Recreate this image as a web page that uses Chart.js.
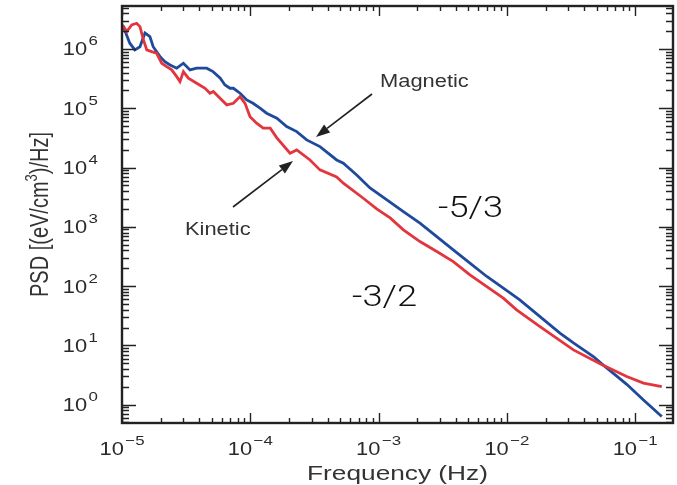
<!DOCTYPE html>
<html>
<head>
<meta charset="utf-8">
<title>PSD - Magnetic vs Kinetic</title>
<script src="https://cdn.jsdelivr.net/npm/chart.js"></script>
<style>
  html, body { margin: 0; padding: 0; background: #fff; }
</style>
</head>
<body>
<canvas id="psd" width="677" height="485"></canvas>
<script>
// magnetic spectrum (blue)
const magFreq = [1.02e-5, 1.15e-5, 1.26e-5, 1.38e-5, 1.51e-5, 1.65e-5, 1.75e-5, 1.98e-5, 2.16e-5, 2.37e-5,
  2.67e-5, 3.01e-5, 3.39e-5, 3.82e-5, 4.57e-5, 5.12e-5, 5.81e-5, 6.35e-5, 6.95e-5, 7.38e-5,
  8.32e-5, 9.38e-5, 1.05e-4, 1.19e-4, 1.34e-4, 1.61e-4, 1.92e-4, 2.30e-4, 2.75e-4, 3.49e-4,
  4.71e-4, 5.31e-4, 6.75e-4, 8.57e-4, 1.16e-3, 1.56e-3, 2.10e-3, 2.84e-3, 3.82e-3, 5.15e-3,
  6.97e-3, 9.38e-3, 1.26e-2, 1.81e-2, 2.59e-2, 3.30e-2, 4.72e-2, 5.61e-2, 8.59e-2, 0.116, 0.161];
const magPsd = [2.44e6, 1.25e6, 9.62e5, 1.09e6, 1.86e6, 1.61e6, 1.09e6, 7.41e5, 6.11e5, 5.37e5,
  4.73e5, 5.74e5, 4.43e5, 4.73e5, 4.73e5, 4.14e5, 3.24e5, 2.47e5, 2.17e5, 2.17e5,
  1.79e5, 1.38e5, 1.21e5, 1.00e5, 8.24e4, 6.78e4, 4.90e4, 4.03e4, 2.92e4, 2.25e4,
  1.34e4, 1.18e4, 7.50e3, 4.53e3, 2.84e3, 1.80e3, 1.15e3, 684, 407, 243,
  145, 92.2, 58.5, 30.6, 16.1, 11.0, 6.47, 4.69, 2.2, 1.2, 0.63];

// kinetic spectrum (red)
const kinFreq = [1.01e-5, 1.09e-5, 1.19e-5, 1.30e-5, 1.38e-5, 1.47e-5, 1.56e-5, 1.70e-5, 1.86e-5, 2.04e-5,
  2.23e-5, 2.44e-5, 2.67e-5, 2.83e-5, 3.01e-5, 3.29e-5, 3.82e-5, 4.44e-5, 4.85e-5, 5.15e-5,
  5.81e-5, 6.55e-5, 7.38e-5, 8.32e-5, 9.10e-5, 9.95e-5, 1.12e-4, 1.26e-4, 1.43e-4, 1.61e-4,
  2.04e-4, 2.30e-4, 2.92e-4, 3.49e-4, 4.71e-4, 5.31e-4, 7.60e-4, 9.66e-4, 1.23e-3, 1.56e-3,
  2.10e-3, 2.84e-3, 3.82e-3, 5.15e-3, 6.97e-3, 9.38e-3, 1.19e-2, 1.81e-2, 3.30e-2, 5.32e-2,
  8.59e-2, 0.116, 0.161];
const kinPsd = [2.54e6, 1.96e6, 2.54e6, 2.71e6, 2.38e6, 1.42e6, 9.62e5, 8.99e5, 8.45e5, 5.74e5,
  5.04e5, 4.43e5, 3.41e5, 2.81e5, 4.14e5, 3.21e5, 2.64e5, 2.17e5, 1.79e5, 1.91e5,
  1.48e5, 1.14e5, 1.21e5, 1.57e5, 1.21e5, 7.21e4, 5.58e4, 4.60e4, 4.60e4, 3.16e4,
  1.74e4, 1.98e4, 1.34e4, 9.12e3, 6.94e3, 5.43e3, 3.03e3, 2.01e3, 1.41e3, 887,
  563, 382, 259, 155, 98.2, 62.5, 39.7, 20.7, 8.39, 4.88,
  2.98, 2.31, 2.02];

// decade ticks and their exponent labels
const xDecades = [1e-5, 1e-4, 1e-3, 1e-2, 1e-1];
const xExpLabels = ['\u22125', '\u22124', '\u22123', '\u22122', '\u22121'];
const yDecades = [1, 10, 100, 1e3, 1e4, 1e5, 1e6];
const yExpLabels = ['0', '1', '2', '3', '4', '5', '6'];

const FONT = '"Liberation Sans", Arial, Helvetica, sans-serif';
const LIGHT = 'Roboto, "Open Sans", "Liberation Sans", sans-serif';
const SX = 1.25;   // glyphs in this figure are set wide
const INK = '#222';

function wideText(ctx, txt, x, y, font, align, color) {
  ctx.save();
  ctx.font = font;
  const w = ctx.measureText(txt).width * SX;
  let left = x;
  if (align === 'center') left = x - w / 2;
  else if (align === 'right') left = x - w;
  ctx.translate(left, y);
  ctx.scale(SX, 1);
  ctx.fillStyle = color || INK;
  ctx.textAlign = 'left';
  ctx.textBaseline = 'alphabetic';
  ctx.fillText(txt, 0, 0);
  ctx.restore();
  return w;
}

function measureWide(ctx, txt, font) {
  ctx.save();
  ctx.font = font;
  const w = ctx.measureText(txt).width * SX;
  ctx.restore();
  return w;
}

// "10" with a raised exponent
function powerLabel(ctx, exp, x, baseY, anchor) {
  const bf = '17.5px ' + FONT, ef = '13.5px ' + FONT;
  const wb = measureWide(ctx, '10', bf), we = measureWide(ctx, exp, ef);
  const total = wb + 1.5 + we;
  const left = anchor === 'center' ? x - total / 2 : x - total;
  wideText(ctx, '10', left, baseY, bf, 'left', '#2a2a2a');
  wideText(ctx, exp, left + wb + 1.5, baseY - 10, ef, 'left', '#2a2a2a');
}

function arrow(ctx, x0, y0, x1, y1) {
  const a = Math.atan2(y1 - y0, x1 - x0), len = 14, hw = 5;
  const bx = x1 - len * Math.cos(a), by = y1 - len * Math.sin(a);
  ctx.save();
  ctx.strokeStyle = INK;
  ctx.fillStyle = INK;
  ctx.lineWidth = 1.6;
  ctx.beginPath();
  ctx.moveTo(x0, y0);
  ctx.lineTo(bx, by);
  ctx.stroke();
  ctx.beginPath();
  ctx.moveTo(x1, y1);
  ctx.lineTo(bx + hw * Math.sin(a), by - hw * Math.cos(a));
  ctx.lineTo(bx - hw * Math.sin(a), by + hw * Math.cos(a));
  ctx.closePath();
  ctx.fill();
  ctx.restore();
}

// frame, inward log ticks on all four sides, labels and annotations
const figurePlugin = {
  id: 'figure',
  afterDatasetsDraw(chart) {
    const { ctx, chartArea: a, scales } = chart;
    const xs = scales.x, ys = scales.y;
    ctx.save();
    ctx.strokeStyle = INK;
    ctx.lineWidth = 1.4;
    ctx.beginPath();
    for (let d = -5; d <= -1; d++) {
      for (let m = 1; m <= 9; m++) {
        const v = m * Math.pow(10, d);
        if (v < xs.min || v > xs.max) continue;
        const px = Math.round(xs.getPixelForValue(v)) + 0.5;
        const L = m === 1 ? 10 : 5;
        ctx.moveTo(px, a.bottom); ctx.lineTo(px, a.bottom - L);
        ctx.moveTo(px, a.top); ctx.lineTo(px, a.top + L);
      }
    }
    for (let d = -1; d <= 6; d++) {
      for (let m = 1; m <= 9; m++) {
        const v = m * Math.pow(10, d);
        if (v < ys.min || v > ys.max) continue;
        const py = Math.round(ys.getPixelForValue(v)) + 0.5;
        const L = m === 1 ? 14 : 7;
        ctx.moveTo(a.left, py); ctx.lineTo(a.left + L, py);
        ctx.moveTo(a.right, py); ctx.lineTo(a.right - L, py);
      }
    }
    ctx.stroke();
    ctx.lineWidth = 2.4;
    ctx.strokeRect(a.left, a.top, a.right - a.left, a.bottom - a.top);
    ctx.restore();

    xDecades.forEach((v, i) => powerLabel(ctx, xExpLabels[i], xs.getPixelForValue(v), 455, 'center'));
    yDecades.forEach((v, i) => powerLabel(ctx, yExpLabels[i], 98, ys.getPixelForValue(v) + 6.5, 'right'));

    // x axis title
    wideText(ctx, 'Frequency (Hz)', (a.left + a.right) / 2, 480, '21px ' + FONT, 'center', '#333');

    // y axis title, rotated, with superscript 3
    ctx.save();
    const tf = '20px ' + FONT, sf = '13px ' + FONT;
    const p1 = 'PSD [(eV/cm', p2 = '3', p3 = ')/Hz]';
    ctx.font = tf;
    const w1 = ctx.measureText(p1).width, w3 = ctx.measureText(p3).width;
    ctx.font = sf;
    const w2 = ctx.measureText(p2).width;
    const tot = w1 + w2 + w3;
    ctx.translate(48, (a.top + a.bottom) / 2);
    ctx.scale(1.25, 1);
    ctx.rotate(-Math.PI / 2);
    ctx.fillStyle = '#333';
    ctx.textBaseline = 'alphabetic';
    ctx.font = tf;
    ctx.fillText(p1, -tot / 2, 0);
    ctx.font = sf;
    ctx.fillText(p2, -tot / 2 + w1, -8.5);
    ctx.font = tf;
    ctx.fillText(p3, -tot / 2 + w1 + w2, 0);
    ctx.restore();

    // annotations
    wideText(ctx, 'Magnetic', 380, 87, '17.5px ' + FONT, 'left', '#333');
    wideText(ctx, 'Kinetic', 185, 235, '17.5px ' + FONT, 'left', '#333');
    arrow(ctx, 372, 94, 316, 137);
    arrow(ctx, 233, 207, 293, 161);
    wideText(ctx, '-5/3', 438, 217, '300 29px ' + LIGHT, 'left', '#111');
    wideText(ctx, '-3/2', 352, 306, '300 29px ' + LIGHT, 'left', '#111');
  }
};

new Chart(document.getElementById('psd'), {
  type: 'scatter',
  data: {
    datasets: [
      {
        label: 'Kinetic',
        data: kinFreq.map((f, i) => ({ x: f, y: kinPsd[i] })),
        showLine: true,
        borderColor: '#e3353d',
        borderWidth: 2.8,
        pointRadius: 0,
        tension: 0,
        order: 0
      },
      {
        label: 'Magnetic',
        data: magFreq.map((f, i) => ({ x: f, y: magPsd[i] })),
        showLine: true,
        borderColor: '#1f4a9b',
        borderWidth: 2.8,
        pointRadius: 0,
        tension: 0,
        order: 1
      }
    ]
  },
  options: {
    responsive: false,
    devicePixelRatio: 1,
    animation: false,
    layout: { padding: { left: 122, right: 4, top: 6, bottom: 62 } },
    scales: {
      x: { type: 'logarithmic', min: 1e-5, max: 0.197, display: false },
      y: { type: 'logarithmic', min: 0.49, max: 5.3e6, display: false }
    },
    plugins: { legend: { display: false }, tooltip: { enabled: false } }
  },
  plugins: [figurePlugin]
});
</script>
</body>
</html>
